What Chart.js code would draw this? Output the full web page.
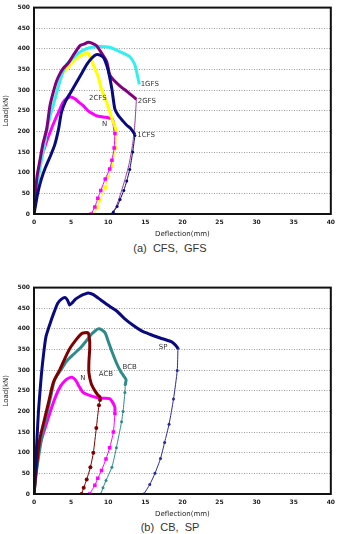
<!DOCTYPE html>
<html><head><meta charset="utf-8">
<script src="https://cdn.jsdelivr.net/npm/chart.js@4/dist/chart.umd.min.js"></script>
<style>
html,body{margin:0;padding:0;background:#fff;width:340px;height:534px;overflow:hidden;position:relative;}
.wrap{position:absolute;left:0;width:340px;height:240px;}
canvas{display:block;}
.cap{position:absolute;left:0;width:340px;text-align:center;font-family:"Liberation Sans",Arial,sans-serif;font-size:11px;line-height:13px;color:#333;white-space:pre;}
</style></head><body>
<div class="wrap" style="top:0"><canvas id="cA" width="340" height="240"></canvas></div>
<div class="cap" style="top:242px">(a)  CFS,  GFS</div>
<div class="wrap" style="top:280px"><canvas id="cB" width="340" height="240"></canvas></div>
<div class="cap" style="top:521px">(b)  CB,  SP</div>
<script>
// ---- axis ticks ----
const xTicks = [0,5,10,15,20,25,30,35,40];
const yTicks = [0,50,100,150,200,250,300,350,400,450,500];
const xTitle = 'Deflection(mm)';
const yTitle = 'Load(kN)';

// ---- chart (a): CFS, GFS ----
const aN_x = [0,0.3,0.8,1.5,2.2,3.0,3.3,3.9,4.6,5.1,5.6,6.1,6.6,7.3,8.0,8.4,9.3,10.0,10.5,10.8,10.9];
const aN_y = [0,60,120,165,200,235,246,270,282,283,278,270,263,250,242,238,235,233,231,215,200];
const aNu_x = [10.9,10.8,10.5,10.2,9.6,9.0,8.6,8.2,7.7];
const aNu_y = [195,160,130,109,85,57,38,17,0];

const a2CFS_x = [0,0.3,0.7,1.2,1.7,2.2,2.7,3.3,3.9,4.4,5.2,6.0,6.7,7.3,7.8,8.65,9.1,9.8,10.5,10.9,11.1];
const a2CFS_y = [0,50,100,150,200,240,270,310,342,352,368,380,387,389,369,333,302,270,231,212,200];
const a2CFSu_x = [11.1,11.0,10.5,10.0,9.6,8.9,8.5,8.1];
const a2CFSu_y = [195,160,116,90,65,33,15,0];

const a1CFS_x = [0,0.5,1.0,1.5,2.2,2.8,3.3,3.7,4.3,5.0,5.7,6.4,7.1,7.8,8.4,8.9,9.4,9.8,10.1,10.5,10.9,11.35,12.0,12.5,13.0,13.6];
const a1CFS_y = [0,50,85,111,140,168,205,246,275,296,318,340,362,378,386,385,378,360,340,302,254,239,225,215,208,193];
const a1CFSu_x = [13.6,13.3,12.9,12.5,12.1,11.6,11.2,10.7,10.5];
const a1CFSu_y = [190,150,108,80,57,35,18,5,0];

const a1GFS_x = [0,0.3,0.7,1.2,1.7,2.2,2.7,3.3,3.9,4.5,5.1,6.0,7.0,7.8,8.9,10.2,11.6,12.9,13.6,14.0,14.2];
const a1GFS_y = [0,50,100,150,200,240,270,310,345,365,375,390,400,404,406,404,393,381,361,330,314];

const a2GFS_x = [0,0.2,0.4,0.8,1.2,1.7,2.15,2.6,3.05,3.5,3.95,4.6,5.3,6.2,6.8,7.3,7.8,8.4,9.1,9.8,10.2,10.7,11.6,12.6,13.8];
const a2GFS_y = [0,50,90,130,170,205,262,295,322,340,353,365,385,408,412,416,414,408,390,369,337,325,310,296,278];
const a2GFSu_x = [13.8,13.6,13.3,12.8,12.2,11.6,11.0,10.4];
const a2GFSu_y = [278,220,170,120,80,45,15,0];

const labelsA = [
  {text:'1GFS', x:15.6, y:315},
  {text:'2GFS', x:15.2, y:273},
  {text:'2CFS', x:8.6, y:280},
  {text:'N', x:9.5, y:218},
  {text:'1CFS', x:15.1, y:190}
];

// ---- chart (b): CB, SP ----
const bSP_x = [0,0.15,0.3,0.45,0.6,0.8,1.0,1.25,1.6,2.15,2.7,3.2,3.7,4.2,4.5,4.8,5.1,5.6,6.2,6.8,7.3,8.0,9.0,10.0,11.1,12.2,13.4,14.5,15.6,17.0,18.5,19.0,19.4];
const bSP_y = [0,50,100,150,200,246,290,333,380,412,440,462,472,476,470,458,462,472,479,484,487,483,470,457,444,425,408,395,387,378,369,362,353];
const bSPu_x = [19.4,19.3,18.8,18.2,17.6,17.05,16.3,15.6,14.8];
const bSPu_y = [353,299,230,169,125,86,50,23,0];

const bACB_x = [0,0.3,0.8,1.4,2.0,2.6,3.5,4.2,4.85,5.6,6.2,6.6,7.3,7.5,7.5,7.4,7.4,7.7,8.2,8.6,8.9,8.9];
const bACB_y = [0,60,135,180,225,270,302,330,353,372,385,390,390,370,349,320,294,268,250,240,235,228];
const bACBu_x = [8.9,8.75,8.4,8.0,7.6,7.1,6.7,6.4];
const bACBu_y = [228,215,160,100,65,35,15,0];

const bBCB_x = [0,0.3,0.7,1.2,1.8,2.3,2.8,3.6,4.4,5.3,6.2,7.0,7.8,8.3,8.65,9.1,9.6,10.0,10.5,11.1,11.7,12.4,12.3];
const bBCB_y = [0,50,100,150,200,240,278,300,322,338,353,370,388,396,400,398,390,370,345,318,296,277,265];
const bBCBu_x = [12.3,12.25,12.0,11.8,11.1,10.5,9.7,9.3,9.0];
const bBCBu_y = [265,246,200,175,112,65,33,15,0];

const bN_x = [0,0.3,0.8,1.5,2.2,3.0,3.6,4.2,4.7,5.1,5.6,6.1,6.6,7.3,8.0,8.9,9.5,10.2,10.6,10.9,10.9];
const bN_y = [0,60,120,160,200,240,262,275,281,283,276,260,246,240,236,232,232,231,222,210,199];
const bNu_x = [10.9,10.7,10.2,9.7,9.1,8.6,8.2,7.5];
const bNu_y = [195,150,112,85,57,38,21,0];

const labelsB = [
  {text:'SP', x:17.4, y:355},
  {text:'BCB', x:12.9, y:307},
  {text:'ACB', x:9.7, y:290},
  {text:'N', x:6.6, y:280}
];

function pts(xs, ys){ return xs.map((x,i)=>({x:x, y:ys[i]})); }
function thick(xs, ys, color, order){
  return {data:pts(xs,ys), borderColor:color, backgroundColor:color, borderWidth:3, pointRadius:0, showLine:true, tension:0.2, order:order};
}
function thin(xs, ys, color, style, r, order){
  return {data:pts(xs,ys), borderColor:color, backgroundColor:color, borderWidth:1, pointRadius:r, pointStyle:style, pointBorderWidth:0, showLine:true, tension:0.2, order:order};
}

const frame = {
  id:'frame',
  afterDatasetsDraw(chart, args, opts){
    const ctx = chart.ctx, a = chart.chartArea;
    ctx.save();
    ctx.font = '7px "DejaVu Sans", sans-serif';
    ctx.fillStyle = '#333';
    ctx.textAlign = 'center'; ctx.textBaseline = 'middle';
    (opts.labels||[]).forEach(l=>{
      ctx.fillText(l.text, chart.scales.x.getPixelForValue(l.x), chart.scales.y.getPixelForValue(l.y));
    });
    ctx.strokeStyle = '#111'; ctx.lineWidth = 2;
    ctx.strokeRect(a.left, a.top, a.right-a.left, a.bottom-a.top);
    ctx.restore();
  }
};

function makeChart(id, datasets, labels){
  return new Chart(document.getElementById(id), {
    type:'scatter',
    data:{datasets:datasets},
    plugins:[frame],
    options:{
      responsive:false, animation:false, devicePixelRatio:1,
      layout:{padding:{top:3,right:9,left:0,bottom:0}},
      plugins:{legend:{display:false}, tooltip:{enabled:false}, frame:{labels:labels}},
      scales:{
        x:{type:'linear', min:0, max:40,
          afterBuildTicks:(s)=>{ s.ticks = xTicks.map(v=>({value:v})); },
          afterFit:(s)=>{ s.height = 26; },
          grid:{display:false, drawTicks:false}, border:{display:false},
          ticks:{font:{family:'"DejaVu Sans", sans-serif', size:6, weight:'bold'}, color:'#222', padding:5, maxRotation:0},
          title:{display:true, text:xTitle, font:{family:'"DejaVu Sans", sans-serif', size:7}, color:'#222', padding:{top:0,bottom:2}}
        },
        y:{type:'linear', min:0, max:500,
          afterBuildTicks:(s)=>{ s.ticks = yTicks.map(v=>({value:v})); },
          afterFit:(s)=>{ s.width = 34; },
          grid:{color:'#9a9a9a', lineWidth:1, drawTicks:false}, border:{display:false, dash:[1,1.5]},
          ticks:{font:{family:'"DejaVu Sans", sans-serif', size:6, weight:'bold'}, color:'#222', padding:4},
          title:{display:true, text:yTitle, font:{family:'"DejaVu Sans", sans-serif', size:7}, color:'#222', padding:{top:2,bottom:0}}
        }
      }
    }
  });
}

makeChart('cA', [
  thick(a1CFS_x, a1CFS_y, '#0a0a80', 1),
  thick(a2GFS_x, a2GFS_y, '#800080', 3),
  thick(a1GFS_x, a1GFS_y, '#33f0f0', 4),
  thick(a2CFS_x, a2CFS_y, '#ffff00', 5),
  thick(aN_x, aN_y, '#ff00ff', 6),
  thin(aNu_x, aNu_y, '#ff00ff', 'rect', 2.5, 7),
  thin(a2CFSu_x, a2CFSu_y, '#ffff00', 'rect', 2.5, 8),
  thin(a1CFSu_x, a1CFSu_y, '#0a0a80', 'circle', 1.5, 7),
  thin(a2GFSu_x, a2GFSu_y, '#9a3c9a', 'circle', 0, 9)
], labelsA);

makeChart('cB', [
  thick(bSP_x, bSP_y, '#0a0a80', 1),
  thick(bACB_x, bACB_y, '#800000', 2),
  thick(bBCB_x, bBCB_y, '#2e8b8b', 3),
  thick(bN_x, bN_y, '#ff00ff', 4),
  thin(bSPu_x, bSPu_y, '#2a2aa0', 'circle', 1.5, 5),
  thin(bACBu_x, bACBu_y, '#800000', 'circle', 2, 5),
  thin(bBCBu_x, bBCBu_y, '#2e8b8b', 'circle', 1.5, 5),
  thin(bNu_x, bNu_y, '#ff00ff', 'rect', 2.5, 5)
], labelsB);
</script>
</body></html>
